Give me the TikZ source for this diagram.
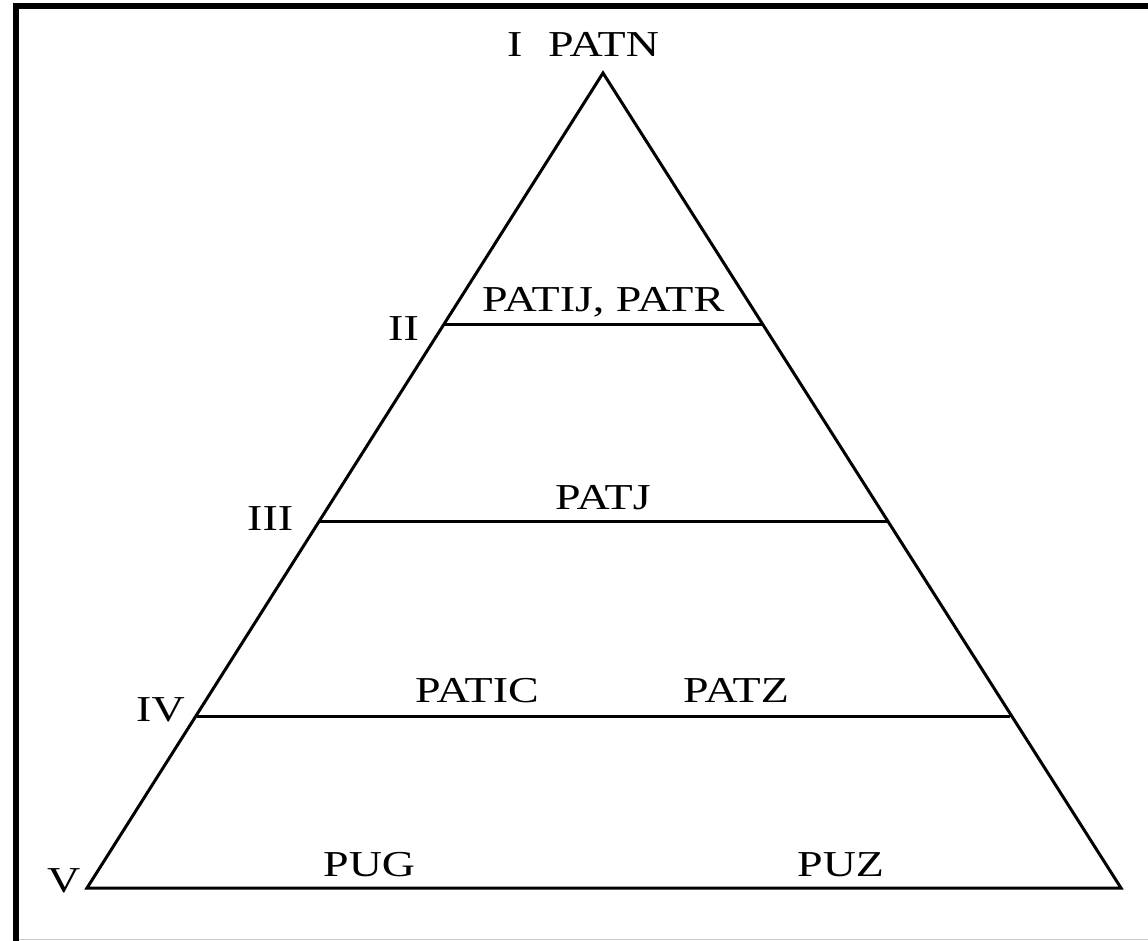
\documentclass[tikz,border=0pt]{standalone}
\usepackage{fontspec}
\setmainfont{Liberation Serif}
\begin{document}
\begin{tikzpicture}[x=1pt,y=-1pt,
  edge/.style={line width=3pt, line join=miter},
  lbl/.style={font=\fontsize{36.5}{40}\selectfont, inner sep=0pt, anchor=base west}]
\useasboundingbox (0,0) rectangle (1148,941);
\fill[white] (0,0) rectangle (1148,941);
% frame
\draw[line width=6pt] (16,941) -- (16,6) -- (1148,6);
\draw[line width=1pt, black!20] (19,939.5) -- (1148,939.5);
% triangle
\coordinate (apex) at (603,73);
\coordinate (bl) at (87,888);
\coordinate (br) at (1121,888);
\coordinate (l2) at (445,324);
\coordinate (r2) at (762,324);
\coordinate (l3) at (320,521);
\coordinate (r3) at (888,521);
\coordinate (l4) at (197,716);
\coordinate (r4) at (1010,716);
\draw[edge] (apex) -- (bl) -- (br) -- cycle;
\draw[edge] (l2) -- (r2);
\draw[edge] (l3) -- (r3);
\draw[edge] (l4) -- (r4);
% labels
\newcommand{\sx}[1]{\scalebox{1.26}[1]{#1}}
\node[lbl] (tI) at (507,57) {\sx{I}};
\node[lbl] (tPATN) at (548,57) {\sx{PATN}};
\node[lbl] (tII) at (388,340) {\sx{II}};
\node[lbl] (tPATIJ) at (482,312) {\sx{PATIJ, PATR}};
\node[lbl] (tIII) at (247,530) {\sx{III}};
\node[lbl] (tPATJ) at (555,509) {\sx{PATJ}};
\node[lbl] (tIV) at (136,721) {\sx{IV}};
\node[lbl] (tPATIC) at (415,702) {\sx{PATIC}};
\node[lbl] (tPATZ) at (683,702) {\sx{PATZ}};
\node[lbl] (tV) at (47,892) {\sx{V}};
\node[lbl] (tPUG) at (323,876) {\sx{PUG}};
\node[lbl] (tPUZ) at (797,876) {\sx{PUZ}};
\end{tikzpicture}
\end{document}
